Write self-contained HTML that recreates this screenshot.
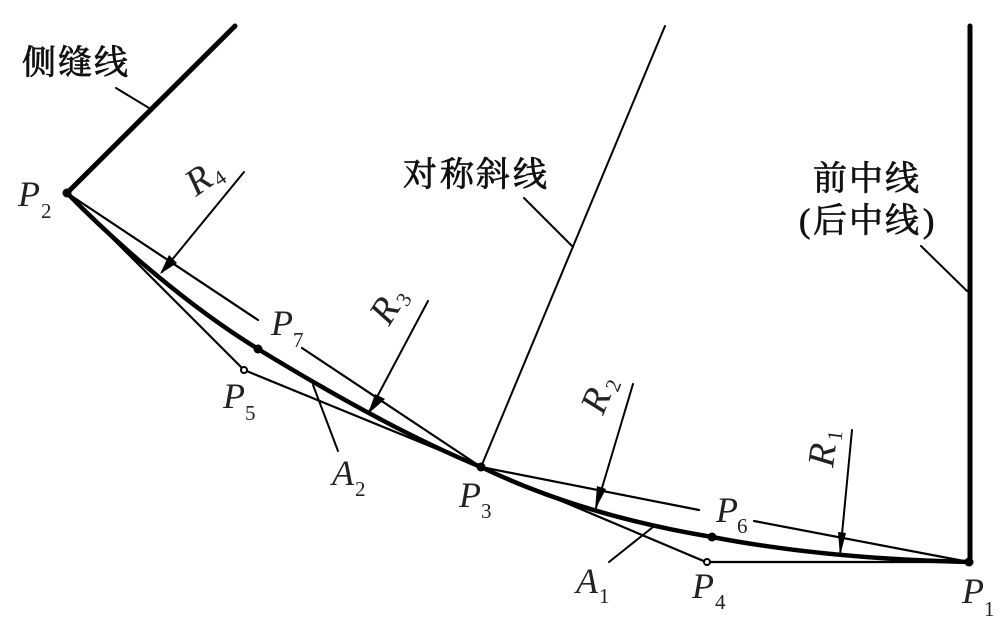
<!DOCTYPE html>
<html><head><meta charset="utf-8"><style>
html,body{margin:0;padding:0;background:#fff;width:1000px;height:632px;overflow:hidden}
svg{display:block;filter:blur(.35px)}
.l{font-family:"Liberation Serif",serif;font-style:italic;font-size:36px;fill:#222}
.r{font-family:"Liberation Serif",serif;font-style:italic;font-size:38px;fill:#222}
.s{font-family:"Liberation Serif",serif;font-size:21px;fill:#222}
.c{font-family:"Liberation Serif","Noto Serif CJK SC",serif;font-size:34px;font-weight:400;fill:#111;stroke:#111;stroke-width:.8px}
</style></head><body>
<svg width="1000" height="632" viewBox="0 0 1000 632" xmlns="http://www.w3.org/2000/svg">
<g fill="none" stroke="#000" stroke-linecap="round">
<path d="M67 193L235 26" stroke-width="5"/>
<path d="M970 26V562" stroke-width="5"/>
<path d="M481 467L665 26" stroke-width="2"/>
<path d="M67 193L244 370L481 467L706 562H969" stroke-width="2.2"/>
<path d="M67 193L258 320M302 348L481 467L699 510M754 521L969 562" stroke-width="2.2"/>
<path d="M67 193C120 247 190 307 258 349C330 393 410 438 481 467C560 505 640 525 712 537C790 552 880 560 969 562" stroke-width="4.5"/>
<path d="M116 88L149 108M524 198L573 247M921 246L967 291" stroke-width="2"/>
<path d="M244 172L162 272M428 301L369 412M633 384L596 508M852 430L840 555" stroke-width="2"/>
<path d="M313 385L338 451M653 527L609 562" stroke-width="2"/>
</g>
<g fill="#000">
<polygon points="160,274 169,255 177,263"/>
<polygon points="368,414 375,394 385,399"/>
<polygon points="595,510 597,486 606,489"/>
<polygon points="840,556 838,532 846,533"/>
<circle cx="67" cy="193" r="4.5"/><circle cx="969" cy="562" r="4.5"/><circle cx="481" cy="467" r="4.5"/>
<circle cx="258" cy="349" r="4.5"/><circle cx="712" cy="537" r="4.5"/>
</g>
<g fill="#fff" stroke="#000" stroke-width="2">
<circle cx="244" cy="370" r="3"/><circle cx="707" cy="562" r="3"/>
</g>
<text class="c" x="22 58 94" y="74">侧缝线</text>
<text class="c" x="403 440 476 513" y="186">对称斜线</text>
<text class="c" x="813 849 885" y="190">前中线</text>
<text class="c" x="799 813 849 885 923" y="232">(后中线)</text>
<text class="l" x="18" y="206">P</text><text class="s" x="41" y="218">2</text>
<text class="l" x="271" y="335">P</text><text class="s" x="293" y="347">7</text>
<text class="l" x="223" y="408">P</text><text class="s" x="245" y="420">5</text>
<text class="l" x="332" y="485">A</text><text class="s" x="355" y="496">2</text>
<text class="l" x="459" y="507">P</text><text class="s" x="481" y="518">3</text>
<text class="l" x="716" y="522">P</text><text class="s" x="737" y="533">6</text>
<text class="l" x="576" y="593">A</text><text class="s" x="599" y="603">1</text>
<text class="l" x="692" y="598">P</text><text class="s" x="715" y="609">4</text>
<text class="l" x="962" y="603">P</text><text class="s" x="984" y="616">1</text>
<g transform="translate(196,197) rotate(-35)"><text class="r" x="0" y="0">R</text><text class="s" x="25" y="5">4</text></g>
<g transform="translate(389,327) rotate(-58)"><text class="r" x="0" y="0">R</text><text class="s" x="26" y="5">3</text></g>
<g transform="translate(603,416) rotate(-68)"><text class="r" x="0" y="0">R</text><text class="s" x="27" y="5">2</text></g>
<g transform="translate(833,468) rotate(-83)"><text class="r" x="0" y="0">R</text><text class="s" x="27" y="5">1</text></g>
</svg>
</body></html>
